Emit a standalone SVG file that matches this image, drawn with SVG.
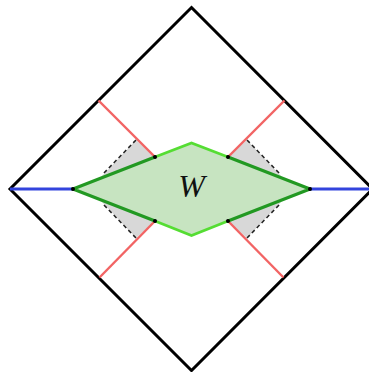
<svg xmlns="http://www.w3.org/2000/svg" width="369" height="372" viewBox="0 0 369 372">
<style>
.frame{fill:none;stroke:#000;stroke-width:3;stroke-linejoin:miter}
.gray{fill:#d8d8d8;stroke:none}
.dash{fill:none;stroke:#222;stroke-width:1.5;stroke-dasharray:4,3}
.red{stroke:#f26464;stroke-width:2.4;fill:none}
.lens{fill:#c7e4c1;stroke:none}
.dk{stroke:#229922;stroke-width:3.2;fill:none;stroke-linecap:round}
.lt{stroke:#55dd33;stroke-width:2.8;fill:none;stroke-linejoin:miter}
.blue{stroke:#3344dd;stroke-width:2.8;fill:none}
.dot{fill:#000}
.lbl{font-family:"Liberation Serif","DejaVu Serif",serif;font-style:italic;font-size:32px;fill:#111}
</style>
<g id="frame">
<polygon class="frame" points="191.5,7.5 372.5,189 191.5,370.5 10,189"/>
</g>
<g id="gray-regions">
<polygon class="gray" points="155,157 136,140 101,177"/>
<polygon class="gray" points="228,157 247,140 282,177"/>
<polygon class="gray" points="155,221 136,238 101,201"/>
<polygon class="gray" points="228,221 247,238 282,201"/>
<line class="dash" x1="136" y1="140" x2="103" y2="174"/>
<line class="dash" x1="247" y1="140" x2="280" y2="174"/>
<line class="dash" x1="136" y1="238" x2="103" y2="204"/>
<line class="dash" x1="247" y1="238" x2="280" y2="204"/>
</g>
<g id="W">
<polygon class="lens" points="73,189 155,157 191.5,143 228,157 310,189 228,221 191.5,235.5 155,221"/>
<text class="lbl" x="191.5" y="197" text-anchor="middle">W</text>
</g>
<g id="connectors">
<line class="red" x1="155" y1="157" x2="98.5" y2="100.5"/>
<line class="red" x1="228" y1="157" x2="284.5" y2="100.5"/>
<line class="red" x1="155" y1="221" x2="99.5" y2="277.5"/>
<line class="red" x1="228" y1="221" x2="283.5" y2="277.5"/>
<polyline class="lt" points="155,157 191.5,143 228,157"/>
<polyline class="lt" points="155,221 191.5,235.5 228,221"/>
<polyline class="dk" points="155,157 73,189 155,221"/>
<polyline class="dk" points="228,157 310,189 228,221"/>
<line class="blue" x1="10" y1="189" x2="73" y2="189"/>
<line class="blue" x1="310" y1="189" x2="372" y2="189"/>
</g>
<g id="dots">
<circle class="dot" cx="155" cy="157" r="2"/>
<circle class="dot" cx="228" cy="157" r="2"/>
<circle class="dot" cx="155" cy="221" r="2"/>
<circle class="dot" cx="228" cy="221" r="2"/>
<circle class="dot" cx="73" cy="189" r="2"/>
<circle class="dot" cx="310" cy="189" r="2"/>
</g>
</svg>
